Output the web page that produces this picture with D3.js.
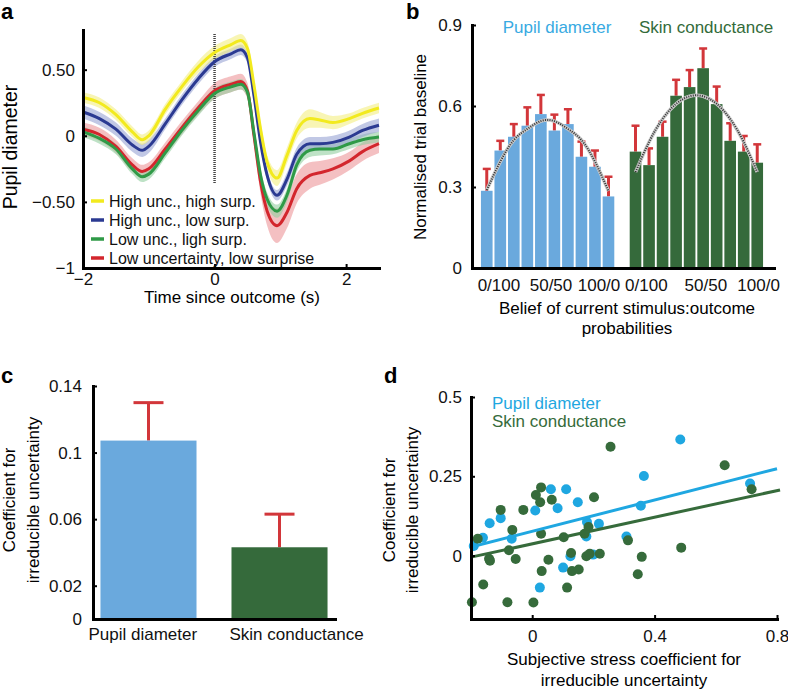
<!DOCTYPE html>
<html><head><meta charset="utf-8">
<script src="https://cdn.jsdelivr.net/npm/d3@7"></script>
<style>
body{margin:0;background:#fff;}
svg text{font-family:"Liberation Sans",Arial,Helvetica,sans-serif;}
</style></head><body>
<svg id="fig" width="788" height="690"></svg>
<script>
// ================= DATA =================
// Panel a: pupil time courses
const timePoints = [-2, -1.75, -1.5, -1.25, -1.1, -1, -0.75, -0.5, -0.25, 0, 0.25, 0.4, 0.5, 0.6, 0.7, 0.8, 0.95, 1.1, 1.25, 1.45, 1.6, 1.8, 2.05, 2.25, 2.5];
const seriesNames = ["High unc., high surp.", "High unc., low surp.", "Low unc., ligh surp.", "Low uncertainty, low surprise"];
const highHighMean = [0.29, 0.25, 0.16, 0.03, -0.03, 0.00, 0.20, 0.37, 0.52, 0.63, 0.69, 0.72, 0.66, 0.38, 0.05, -0.20, -0.32, -0.15, 0.04, 0.13, 0.12, 0.10, 0.13, 0.17, 0.21];
const highLowMean  = [0.18, 0.13, 0.05, -0.07, -0.11, -0.08, 0.09, 0.27, 0.43, 0.56, 0.62, 0.65, 0.59, 0.30, -0.05, -0.30, -0.45, -0.33, -0.14, -0.06, -0.06, -0.05, -0.01, 0.04, 0.08];
const lowHighMean  = [0.03, -0.02, -0.10, -0.25, -0.31, -0.29, -0.13, 0.04, 0.19, 0.32, 0.37, 0.39, 0.33, 0.02, -0.30, -0.48, -0.57, -0.45, -0.22, -0.11, -0.10, -0.10, -0.06, -0.03, -0.01];
const lowLowMean   = [0.05, 0.01, -0.08, -0.22, -0.27, -0.25, -0.10, 0.06, 0.21, 0.34, 0.39, 0.41, 0.34, 0.00, -0.35, -0.57, -0.68, -0.58, -0.40, -0.30, -0.28, -0.25, -0.19, -0.12, -0.06];
const highHighSem  = [0.04, 0.04, 0.04, 0.04, 0.04, 0.04, 0.04, 0.04, 0.045, 0.05, 0.05, 0.05, 0.05, 0.05, 0.05, 0.05, 0.06, 0.06, 0.06, 0.07, 0.06, 0.05, 0.04, 0.04, 0.04];
const highLowSem   = [0.05, 0.05, 0.05, 0.05, 0.05, 0.05, 0.04, 0.04, 0.04, 0.04, 0.04, 0.04, 0.04, 0.04, 0.04, 0.04, 0.04, 0.05, 0.05, 0.05, 0.05, 0.05, 0.05, 0.05, 0.05];
const lowHighSem   = [0.04, 0.04, 0.04, 0.04, 0.04, 0.04, 0.04, 0.04, 0.04, 0.04, 0.04, 0.04, 0.04, 0.04, 0.05, 0.05, 0.05, 0.05, 0.05, 0.05, 0.05, 0.04, 0.04, 0.04, 0.04];
const lowLowSem    = [0.05, 0.05, 0.05, 0.05, 0.05, 0.05, 0.05, 0.05, 0.05, 0.06, 0.06, 0.06, 0.06, 0.07, 0.09, 0.11, 0.13, 0.12, 0.11, 0.10, 0.09, 0.08, 0.07, 0.07, 0.07];
const aXTicks = [-2, 0, 2];
const aXTickLabels = ["\u22122", "0", "2"];
const aYTicks = [-1, -0.5, 0, 0.5];
const aYTickLabels = ["\u22121", "\u22120.50", "0", "0.50"];

// Panel b: trial baseline by belief bin
const pupilBins = [0.286, 0.435, 0.486, 0.527, 0.570, 0.509, 0.533, 0.412, 0.375, 0.265];
const pupilBinsSem = [0.081, 0.036, 0.047, 0.068, 0.071, 0.059, 0.055, 0.056, 0.060, 0.073];
const pupilFit = [0.289, 0.394, 0.474, 0.515, 0.544, 0.544, 0.515, 0.474, 0.394, 0.285];
const skinBins = [0.431, 0.381, 0.486, 0.638, 0.670, 0.740, 0.607, 0.471, 0.431, 0.390];
const skinBinsSem = [0.096, 0.062, 0.056, 0.059, 0.063, 0.073, 0.065, 0.065, 0.058, 0.068];
const skinFit = [0.355, 0.467, 0.552, 0.608, 0.636, 0.636, 0.608, 0.552, 0.467, 0.355];
const bXTickLabels = ["0/100", "50/50", "100/0", "0/100", "50/50", "100/0"];
const bXTickSlots = [0.9, 4.75, 8.3, 11.8, 16.2, 20.1];
const bYTicks = [0, 0.3, 0.6, 0.9];

// Panel c: coefficients
const cCategories = ["Pupil diameter", "Skin conductance"];
const cValues = [0.1072, 0.0431];
const cSem = [0.0228, 0.0199];
const cYTicks = [0, 0.02, 0.06, 0.1, 0.14];

// Panel d: scatter
const pupilStressX = [-0.191, -0.161, -0.139, -0.103, -0.067, 0.010, 0.061, 0.083, 0.111, 0.149, 0.025, 0.101, 0.125, 0.177, 0.179, 0.218, 0.199, 0.355, 0.365, 0.308, 0.484, 0.712];
const pupilStressY = [0.030, 0.056, 0.102, 0.118, 0.053, 0.142, 0.209, 0.149, 0.209, 0.168, -0.101, -0.038, -0.002, 0.060, 0.106, 0.100, 0.003, 0.157, 0.251, 0.060, 0.366, 0.227];
const skinStressX = [-0.197, -0.178, -0.160, -0.141, -0.138, -0.103, -0.081, -0.076, -0.065, -0.054, -0.029, 0.004, 0.012, 0.029, 0.026, 0.029, 0.031, 0.053, 0.064, 0.103, 0.114, 0.127, 0.130, 0.152, 0.171, 0.177, 0.188, 0.184, 0.202, 0.221, 0.256, 0.313, 0.345, 0.358, 0.487, 0.629, 0.717];
const skinStressY = [-0.147, 0.053, -0.091, -0.010, -0.016, 0.144, -0.147, 0.017, 0.081, -0.011, 0.144, -0.148, 0.191, 0.215, 0.168, 0.069, -0.049, -0.013, 0.176, 0.058, -0.101, 0.008, -0.049, -0.044, 0.069, -0.002, 0.006, 0.090, 0.184, 0.006, 0.343, 0.048, -0.059, -0.004, 0.025, 0.285, 0.209];
const pupilFitLine = [[-0.2, 0.027], [0.8, 0.274]];
const skinFitLine = [[-0.2, -0.005], [0.81, 0.207]];
const dXTicks = [0, 0.4, 0.8];
const dYTicks = [0, 0.25, 0.5];

// ================= STYLE =================
const FONT = 17;
const lineColors = ["#f2ea1e", "#2b3a92", "#2f9a47", "#d3262d"];
const bandColors = ["#f4ee82", "#98a3d4", "#93cfa0", "#ec9699"];
const barBlue = "#6aa9dd", barGreen = "#356a3b", errRed = "#d2363a";
const dotBlue = "#1fa7e1", dotGreen = "#366b3b";

const svg = d3.select("#fig");

function styleAxis(g, size) {
  g.attr("font-size", size || FONT).attr("font-family", '"Liberation Sans",Arial,sans-serif');
  g.select(".domain").attr("stroke", "#000").attr("stroke-width", 3).attr("stroke-linecap", "square");
  g.selectAll(".tick line").attr("stroke", "#000").attr("stroke-width", 2);
  g.selectAll(".tick text").attr("fill", "#111");
}
function panelLabel(t, x, y) {
  svg.append("text").attr("x", x).attr("y", y).attr("font-size", 22).attr("font-weight", "bold").text(t);
}

// ================= PANEL A =================
(function () {
  const x = d3.scaleLinear().domain([-2, 2.5]).range([83, 379]);
  const y = d3.scaleLinear().domain([-1, 0.8]).range([268, 30]);
  const g = svg.append("g");
  const means = [highHighMean, highLowMean, lowHighMean, lowLowMean];
  const sems = [highHighSem, highLowSem, lowHighSem, lowLowSem];
  const area = d3.area().curve(d3.curveMonotoneX).x(d => x(d.t)).y0(d => y(d.m - d.s)).y1(d => y(d.m + d.s));
  const line = d3.line().curve(d3.curveMonotoneX).x(d => x(d.t)).y(d => y(d.m));
  const data = means.map((m, k) => timePoints.map((t, i) => ({t: t, m: m[i], s: sems[k][i]})));
  const order = [3, 2, 1, 0];
  order.forEach(k => {
    g.append("path").attr("d", area(data[k])).attr("fill", bandColors[k]).attr("fill-opacity", 0.6);
  });
  // dotted outcome line
  g.append("line").attr("x1", x(0)).attr("x2", x(0)).attr("y1", y(0.77)).attr("y2", y(-0.36))
    .attr("stroke", "#444").attr("stroke-width", 2.5).attr("stroke-dasharray", "1,1");
  order.forEach(k => {
    g.append("path").attr("d", line(data[k])).attr("fill", "none").attr("stroke", lineColors[k]).attr("stroke-width", 3);
  });
  const gx = g.append("g").attr("transform", "translate(0,268)")
    .call(d3.axisBottom(x).tickValues(aXTicks).tickFormat((d, i) => aXTickLabels[i]).tickSizeInner(-4).tickSizeOuter(0).tickPadding(5));
  styleAxis(gx);
  const gy = g.append("g").attr("transform", "translate(83,0)")
    .call(d3.axisLeft(y).tickValues(aYTicks).tickFormat((d, i) => aYTickLabels[i]).tickSizeInner(-4).tickSizeOuter(0).tickPadding(8));
  styleAxis(gy);
  // legend
  const leg = g.append("g");
  seriesNames.forEach((n, k) => {
    const cy = 201 + k * 19;
    leg.append("line").attr("x1", 91).attr("x2", 104).attr("y1", cy).attr("y2", cy).attr("stroke", lineColors[k]).attr("stroke-width", 3.5);
    leg.append("text").attr("x", 109).attr("y", cy + 6).attr("font-size", 16).attr("fill", "#111").text(n);
  });
  g.append("text").attr("x", 232).attr("y", 303).attr("text-anchor", "middle").attr("font-size", FONT).text("Time since outcome (s)");
  g.append("text").attr("transform", "translate(17,147) rotate(-90)").attr("text-anchor", "middle").attr("font-size", 19.5).text("Pupil diameter");
  panelLabel("a", 1, 19);
})();

// ================= PANEL B =================
(function () {
  const slots = d3.range(21);
  const x = d3.scaleBand().domain(slots).range([480, 764]).paddingInner(0.14).paddingOuter(0.07);
  const slotPos = d3.scaleLinear().domain([0, 1]).range([x(0) + x.bandwidth() / 2, x(1) + x.bandwidth() / 2]);
  const y = d3.scaleLinear().domain([0, 0.9]).range([268, 25]);
  const g = svg.append("g");
  const groups = [
    {vals: pupilBins, sem: pupilBinsSem, fit: pupilFit, off: 0, color: barBlue},
    {vals: skinBins, sem: skinBinsSem, fit: skinFit, off: 11, color: barGreen}
  ];
  groups.forEach(grp => {
    const gg = g.append("g");
    grp.vals.forEach((v, i) => {
      const s = i + grp.off;
      const cx = x(s) + x.bandwidth() / 2;
      gg.append("line").attr("x1", cx).attr("x2", cx).attr("y1", y(v)).attr("y2", y(v + grp.sem[i]))
        .attr("stroke", errRed).attr("stroke-width", 3);
      gg.append("line").attr("x1", cx - 4).attr("x2", cx + 4).attr("y1", y(v + grp.sem[i])).attr("y2", y(v + grp.sem[i]))
        .attr("stroke", errRed).attr("stroke-width", 2.5);
      gg.append("rect").attr("x", x(s)).attr("width", x.bandwidth()).attr("y", y(v)).attr("height", y(0) - y(v)).attr("fill", grp.color);
    });
    const fitLine = d3.line().curve(d3.curveNatural).x((d, i) => x(i + grp.off) + x.bandwidth() / 2).y(d => y(d));
    gg.append("path").attr("d", fitLine(grp.fit)).attr("fill", "none").attr("stroke", "#c8c8c8").attr("stroke-width", 3.5);
    gg.append("path").attr("d", fitLine(grp.fit)).attr("fill", "none").attr("stroke", "#333").attr("stroke-width", 2).attr("stroke-dasharray", "1,1.3");
  });
  const frame = d3.scaleLinear().range([472, 774]);
  const gx = g.append("g").attr("transform", "translate(0,268)").call(d3.axisBottom(frame).tickValues([]).tickSizeOuter(0));
  styleAxis(gx);
  const gy = g.append("g").attr("transform", "translate(472,0)")
    .call(d3.axisLeft(y).tickValues(bYTicks).tickFormat(d => d === 0 ? "0" : d3.format(".1f")(d)).tickSizeInner(-4).tickSizeOuter(0).tickPadding(10));
  styleAxis(gy);
  bXTickLabels.forEach((t, i) => {
    g.append("text").attr("x", slotPos(bXTickSlots[i])).attr("y", 291).attr("text-anchor", "middle").attr("font-size", FONT).attr("fill", "#111").text(t);
  });
  g.append("text").attr("x", 627).attr("y", 314).attr("text-anchor", "middle").attr("font-size", FONT).text("Belief of current stimulus:outcome");
  g.append("text").attr("x", 627).attr("y", 334).attr("text-anchor", "middle").attr("font-size", FONT).text("probabilities");
  g.append("text").attr("x", 557).attr("y", 33).attr("text-anchor", "middle").attr("font-size", FONT).attr("fill", "#38aae2").text("Pupil diameter");
  g.append("text").attr("x", 706).attr("y", 33).attr("text-anchor", "middle").attr("font-size", FONT).attr("fill", "#336b3a").text("Skin conductance");
  g.append("text").attr("transform", "translate(426,147) rotate(-90)").attr("text-anchor", "middle").attr("font-size", FONT).text("Normalised trial baseline");
  panelLabel("b", 406, 19);
})();

// ================= PANEL C =================
(function () {
  const x = d3.scaleBand().domain(cCategories).range([93, 335]).paddingInner(0.267).paddingOuter(0.057);
  const y = d3.scaleLinear().domain([0, 0.14]).range([619, 386]);
  const g = svg.append("g");
  const colors = [barBlue, barGreen];
  cCategories.forEach((c, i) => {
    const cx = x(c) + x.bandwidth() / 2;
    g.append("line").attr("x1", cx).attr("x2", cx).attr("y1", y(cValues[i])).attr("y2", y(cValues[i] + cSem[i])).attr("stroke", errRed).attr("stroke-width", 3);
    g.append("line").attr("x1", cx - 15).attr("x2", cx + 15).attr("y1", y(cValues[i] + cSem[i])).attr("y2", y(cValues[i] + cSem[i])).attr("stroke", errRed).attr("stroke-width", 3);
    g.append("rect").attr("x", x(c)).attr("width", x.bandwidth()).attr("y", y(cValues[i])).attr("height", y(0) - y(cValues[i])).attr("fill", colors[i]);
  });
  const frame = d3.scaleLinear().range([93, 335]);
  const gx = g.append("g").attr("transform", "translate(0,619)").call(d3.axisBottom(frame).tickValues([]).tickSizeOuter(0));
  styleAxis(gx);
  const labelShift = [-12, -2];
  cCategories.forEach((c, i) => {
    g.append("text").attr("x", x(c) + labelShift[i]).attr("y", 640).attr("font-size", FONT).attr("fill", "#111").text(c);
  });
  const gy = g.append("g").attr("transform", "translate(93,0)")
    .call(d3.axisLeft(y).tickValues(cYTicks).tickFormat(d => d === 0 ? "0" : String(d)).tickSizeInner(-4).tickSizeOuter(0).tickPadding(11));
  styleAxis(gy);
  g.append("text").attr("transform", "translate(15,500) rotate(-90)").attr("text-anchor", "middle").attr("font-size", FONT).text("Coefficient for");
  g.append("text").attr("transform", "translate(38.5,500) rotate(-90)").attr("text-anchor", "middle").attr("font-size", FONT).text("irreducible uncertainty");
  panelLabel("c", 1, 383);
})();

// ================= PANEL D =================
(function () {
  const x = d3.scaleLinear().domain([-0.2, 0.8]).range([471, 777]);
  const y = d3.scaleLinear().domain([-0.2, 0.5]).range([619, 397]);
  const g = svg.append("g");
  pupilStressX.forEach((v, i) => {
    g.append("circle").attr("cx", x(v)).attr("cy", y(pupilStressY[i])).attr("r", 5).attr("fill", dotBlue);
  });
  skinStressX.forEach((v, i) => {
    g.append("circle").attr("cx", x(v)).attr("cy", y(skinStressY[i])).attr("r", 5).attr("fill", dotGreen);
  });
  const ln = d3.line().x(d => x(d[0])).y(d => y(d[1]));
  g.append("path").attr("d", ln(skinFitLine)).attr("stroke", dotGreen).attr("stroke-width", 3).attr("fill", "none");
  g.append("path").attr("d", ln(pupilFitLine)).attr("stroke", dotBlue).attr("stroke-width", 3).attr("fill", "none");
  const gx = g.append("g").attr("transform", "translate(0,619)")
    .call(d3.axisBottom(x).tickValues(dXTicks).tickFormat(d => String(d)).tickSizeInner(-4).tickSizeOuter(0).tickPadding(11));
  styleAxis(gx);
  const gy = g.append("g").attr("transform", "translate(471,0)")
    .call(d3.axisLeft(y).tickValues(dYTicks).tickFormat(d => String(d)).tickSizeInner(-4).tickSizeOuter(0).tickPadding(9));
  styleAxis(gy);
  g.append("text").attr("x", 492).attr("y", 409).attr("font-size", FONT).attr("fill", dotBlue).text("Pupil diameter");
  g.append("text").attr("x", 492).attr("y", 427).attr("font-size", FONT).attr("fill", dotGreen).text("Skin conductance");
  g.append("text").attr("x", 624).attr("y", 665).attr("text-anchor", "middle").attr("font-size", FONT).text("Subjective stress coefficient for");
  g.append("text").attr("x", 624).attr("y", 686).attr("text-anchor", "middle").attr("font-size", FONT).text("irreducible uncertainty");
  g.append("text").attr("transform", "translate(395,510) rotate(-90)").attr("text-anchor", "middle").attr("font-size", FONT).text("Coefficient for");
  g.append("text").attr("transform", "translate(418,510) rotate(-90)").attr("text-anchor", "middle").attr("font-size", FONT).text("irreducible uncertainty");
  panelLabel("d", 384, 383);
})();
</script>
</body></html>
